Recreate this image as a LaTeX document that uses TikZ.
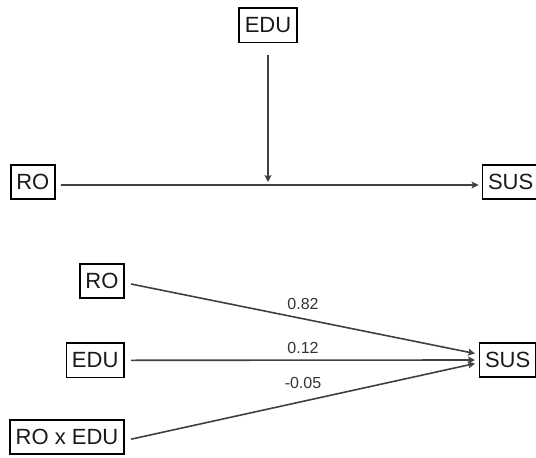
\documentclass[tikz,border=0pt]{standalone}
\usepackage{fontspec}
\setmainfont{Liberation Sans}
\usepackage{xcolor}
\usetikzlibrary{arrows.meta, positioning}

\begin{document}
\begin{tikzpicture}[
		x=1pt, y=-1pt,
		>={Stealth[length=7pt, width=7pt, inset=1.5pt]},
		box/.style={draw=black, line width=1.8pt, text=black!90, inner xsep=5.5pt, minimum height=34.2pt, font=\fontsize{22}{26}\selectfont},
		link/.style={->, draw=black!75, line width=1.6pt},
		coef/.style={inner sep=0pt, text=black!80, font=\fontsize{16}{19}\selectfont}
		]
		
		\useasboundingbox (0,0) rectangle (536,458);
		
		% ==========================================
		% MODERATION MODEL (conceptual)
		% ==========================================
		\node[box] (eduTop) at (268,25.3) {EDU};
		\node[box, anchor=west] (roTop) at (9.9,182) {RO};
		\node[box, anchor=west] (susTop) at (481.6,182) {SUS};
		
		\draw[link] ([xshift=5pt, yshift=-3pt]roTop.east) -- ([xshift=-3pt, yshift=-3pt]susTop.west);
		
		% EDU acts on the RO -> SUS path
		\coordinate (modPoint) at (eduTop |- roTop);
		\draw[link, shorten <=11.5pt] (eduTop) -- (modPoint);
		
		% ==========================================
		% MODERATION MODEL (statistical)
		% ==========================================
		\node[box, anchor=east] (ro) at (124.8,281) {RO};
		\node[box, anchor=east] (edu) at (124.8,360.3) {EDU};
		\node[box, anchor=east] (roEdu) at (124.8,436.7) {RO x EDU};
		\node[box, anchor=west] (sus) at (478.6,360) {SUS};
		
		% Path coefficients
		\draw[link] ([xshift=6.2pt, yshift=-3pt]ro.east) -- ([xshift=-3.6pt, yshift=6.5pt]sus.west)
		node[coef, midway, above=8.25pt] {0.82};
		
		\draw[link] ([xshift=6.2pt]edu.east) -- ([xshift=-3.6pt]sus.west)
		node[coef, midway, above=5.25pt] {0.12};
		
		\draw[link] ([xshift=6.2pt, yshift=-2.5pt]roEdu.east) -- ([xshift=-3.6pt, yshift=-3.5pt]sus.west)
		node[coef, midway, above=12.25pt] {-0.05};
		
	\end{tikzpicture}
\end{document}
